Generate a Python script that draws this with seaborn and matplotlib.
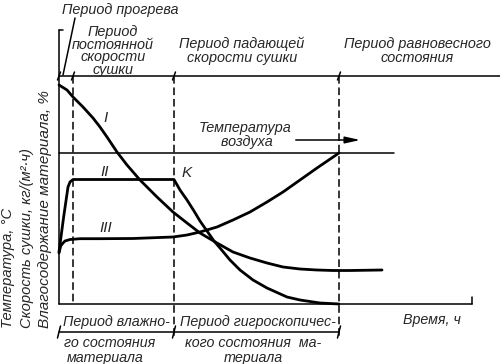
import matplotlib
matplotlib.use("Agg")
import matplotlib.pyplot as plt
import seaborn as sns

# ---- data (time in arbitrary units, values in arbitrary units) ----
time_I = [0, 0.8, 1.4, 2.4, 3.4, 4.1, 4.8, 5.8, 6.8, 8.1, 9.8, 11.4, 12.8, 14.1,
          15.8, 17.4, 19.1, 20.8, 22.4, 24.1, 25.8, 27.4, 29.1, 32.3]
moist_I = [21.9, 21.4, 20.7, 19.7, 18.6, 17.7, 16.7, 15.2, 13.9, 12.4, 10.7, 9.2,
           8.1, 7.1, 6.1, 5.2, 4.6, 4.1, 3.7, 3.5, 3.4, 3.35, 3.35, 3.4]

time_II = [0, 0.45, 0.9, 1.1, 1.4, 11.5, 12.1, 12.8, 13.5, 14.1, 14.8, 15.5, 16.1,
           17.1, 18.1, 19.4, 20.8, 22.8, 24.1, 26.1, 28.0]
rate_II = [5.2, 8.6, 11.7, 12.2, 12.45, 12.45, 11.4, 10.4, 9.3, 8.3, 7.3, 6.3, 5.6,
           4.4, 3.4, 2.4, 1.6, 0.7, 0.4, 0.1, 0.0]

time_III = [0, 0.17, 0.4, 0.6, 1.1, 2.1, 4.1, 7.4, 11.4, 12.8, 14.1, 15.8, 17.4,
            19.1, 20.8, 22.4, 24.1, 25.8, 28.0]
temp_III = [5.1, 5.8, 6.1, 6.3, 6.45, 6.53, 6.53, 6.55, 6.7, 6.9, 7.2, 7.7, 8.4,
            9.2, 10.2, 11.2, 12.4, 13.6, 15.1]

air_temp = 15.1
period_bounds = [1.4, 11.5, 28.0]

curve_labels = ["I", "II", "III"]
top_periods = ["Период\nпостоянной\nскорости\nсушки",
               "Период падающей\nскорости сушки",
               "Период равновесного\nсостояния"]

# ---- figure ----
sns.set_style("white")
plt.rcParams["font.family"] = ["Liberation Sans", "DejaVu Sans"]
plt.rcParams["font.style"] = "italic"

fig = plt.figure(figsize=(5, 3.64), dpi=100)
ax = fig.add_axes([0, 0, 1, 1])
ax.set_xlim(-5.9, 44.1)
ax.set_ylim(-6.0, 30.4)
ax.axis("off")

k = "black"
thin = 1.1
thick = 2.0
fs = 10.4

for t, v in [(time_I, moist_I), (time_II, rate_II), (time_III, temp_III)]:
    sns.lineplot(x=t, y=v, sort=False, estimator=None, color=k, lw=thick, ax=ax)

# axes frame
ax.plot([0, 0], [0, 27.4], color=k, lw=thin)
ax.plot([0, 0.4], [27.4, 27.4], color=k, lw=thin)
ax.plot([0, 41.3], [0, 0], color=k, lw=thin)
ax.plot([41.3, 41.3], [0, 0.7], color=k, lw=thin)
# top period line
ax.plot([0, 44.1], [22.8, 22.8], color=k, lw=thin)
for xb in [0] + period_bounds:
    ax.plot([xb - 0.15, xb + 0.15], [22.4, 23.2], color=k, lw=thin)
# air temperature line
ax.plot([0, 33.5], [air_temp, air_temp], color=k, lw=thin)
# dashed boundaries
ax.plot([period_bounds[0]] * 2, [22.8, 0], color=k, lw=thin, ls=(0, (5, 2.5)))
ax.plot([period_bounds[1]] * 2, [22.8, -3.2], color=k, lw=thin, ls=(0, (5, 2.5)))
ax.plot([period_bounds[2]] * 2, [22.8, -3.2], color=k, lw=thin, ls=(0, (5, 2.5)))
# bottom bracket
ax.plot([0, period_bounds[2]], [-2.8, -2.8], color=k, lw=thin)
for xb in [0, period_bounds[1], period_bounds[2]]:
    ax.plot([xb - 0.15, xb + 0.15], [-3.4, -2.2], color=k, lw=thin)

# heating period leader
ax.plot([1.6, 0.4], [28.6, 22.9], color=k, lw=thin)
ax.text(6.1, 29.4, "Период прогрева", ha="center", va="center", fontsize=fs)

# top period labels
ax.text(5.4, 25.3, top_periods[0], ha="center", va="center", fontsize=fs,
        linespacing=0.86)
ax.text(18.3, 25.3, top_periods[1], ha="center", va="center", fontsize=fs,
        linespacing=1.0)
ax.text(35.8, 25.3, top_periods[2], ha="center", va="center", fontsize=fs,
        linespacing=1.0)

# air temperature label and arrow
ax.text(18.6, 16.9, "Температура\n воздуха", ha="center", va="center",
        fontsize=fs, linespacing=1.0)
ax.annotate("", xy=(30.4, 16.4), xytext=(23.4, 16.4),
            arrowprops=dict(arrowstyle="-|>,head_length=0.9,head_width=0.2",
                            color=k, lw=thin))

# curve labels
ax.text(4.7, 18.6, curve_labels[0], ha="center", va="center", fontsize=11)
ax.text(4.6, 13.2, curve_labels[1], ha="center", va="center", fontsize=11)
ax.text(4.7, 7.6, curve_labels[2], ha="center", va="center", fontsize=11)
ax.text(12.8, 13.1, "K", ha="center", va="center", fontsize=11)

# bottom labels
fsb = 10.3
ax.text(5.7, -1.8, "Период влажно-", ha="center", va="center", fontsize=fsb)
ax.text(5.1, -3.9, "го состояния", ha="center", va="center", fontsize=fsb)
ax.text(4.6, -5.4, "материала", ha="center", va="center", fontsize=fsb)
ax.text(19.9, -1.8, "Период гигроскопичес-", ha="center", va="center", fontsize=fsb)
ax.text(19.4, -3.9, "кого состояния  ма-", ha="center", va="center", fontsize=fsb)
ax.text(19.4, -5.4, "териала", ha="center", va="center", fontsize=fsb)
ax.text(37.3, -1.6, "Время, ч", ha="center", va="center", fontsize=fsb)

# y-axis labels
ax.text(-5.1, -2.4, "Температура, °C", rotation=90, ha="center", va="bottom",
        fontsize=10.6)
ax.text(-3.2, -2.4, "Скорость сушки, кг/(м²·ч)", rotation=90, ha="center",
        va="bottom", fontsize=10.6)
ax.text(-1.4, -2.4, "Влагосодержание материала, %", rotation=90, ha="center",
        va="bottom", fontsize=11)

fig.savefig("out.png", dpi=100)
